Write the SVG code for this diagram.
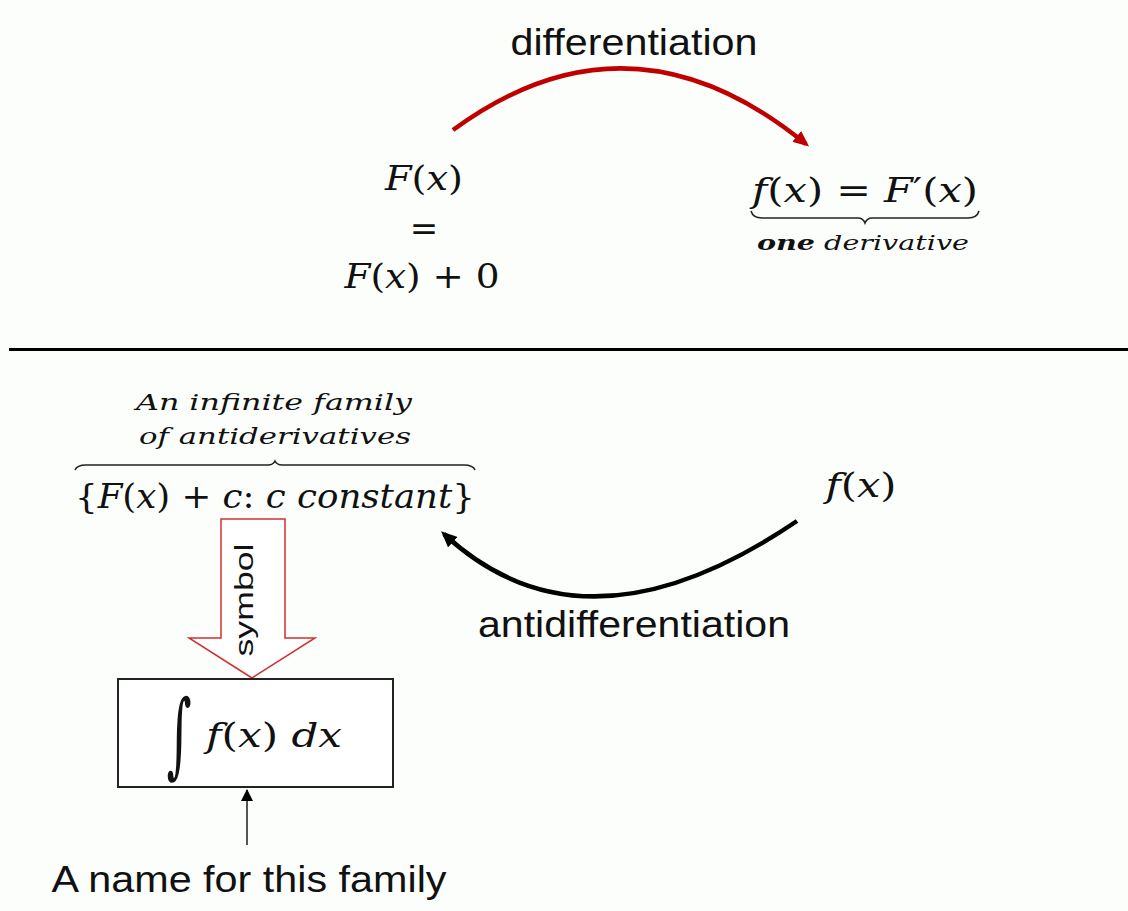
<svg xmlns="http://www.w3.org/2000/svg" width="1128" height="911" viewBox="0 0 1128 911">
<style>
.m{font-family:"DejaVu Serif","Liberation Serif",serif;fill:#111;}
.i{font-style:italic;}
.s{font-family:"Liberation Sans",Arial,sans-serif;fill:#111;}
.brace{fill:none;stroke:#222;stroke-width:1.6;}
</style>
<defs>
<marker id="redHead" markerWidth="16" markerHeight="14" refX="12" refY="7" orient="auto" markerUnits="userSpaceOnUse" viewBox="0 0 16 14">
<path d="M0,0 L16,7 L0,14 Z" fill="#c00000"/>
</marker>
<marker id="blackHead" markerWidth="16" markerHeight="14" refX="12" refY="7" orient="auto" markerUnits="userSpaceOnUse" viewBox="0 0 16 14">
<path d="M0,0 L16,7 L0,14 Z" fill="#000"/>
</marker>
<marker id="smallHead" markerWidth="12" markerHeight="12" refX="11" refY="6" orient="auto" markerUnits="userSpaceOnUse" viewBox="0 0 12 12">
<path d="M0,0 L12,6 L0,12 Z" fill="#000"/>
</marker>
</defs>
<rect width="1128" height="911" fill="#fcfefc"/>

<g id="differentiation-label">
<text class="s" x="634" y="55" font-size="37" text-anchor="middle" textLength="247" lengthAdjust="spacingAndGlyphs">differentiation</text>
</g>

<g id="F-node">
<text class="m" x="424" y="190" font-size="34" text-anchor="middle" textLength="78" lengthAdjust="spacingAndGlyphs"><tspan class="i">F</tspan>(<tspan class="i">x</tspan>)</text>
<text class="m" x="424" y="240" font-size="34" text-anchor="middle">=</text>
<text class="m" x="422" y="288" font-size="34" text-anchor="middle" textLength="155" lengthAdjust="spacingAndGlyphs"><tspan class="i">F</tspan>(<tspan class="i">x</tspan>) + 0</text>
</g>

<g id="derivative-node">
<text class="m" x="865" y="202" font-size="34" text-anchor="middle" textLength="226" lengthAdjust="spacingAndGlyphs"><tspan class="i">f</tspan>(<tspan class="i">x</tspan>) = <tspan class="i">F</tspan>′(<tspan class="i">x</tspan>)</text>
<path class="brace" d="M751,211 Q753,218 762,218 L858,218 Q863,218 865,223 Q867,218 872,218 L968,218 Q977,218 979,211"/>
<text class="m i" x="863" y="250" font-size="21" text-anchor="middle" textLength="212" lengthAdjust="spacingAndGlyphs"><tspan font-weight="bold">one</tspan> derivative</text>
</g>

<g id="divider">
<line x1="9" y1="349.5" x2="1128" y2="349.5" stroke="#000" stroke-width="3"/>
</g>

<g id="family-node">
<text class="m i" x="274" y="410" font-size="22" text-anchor="middle" textLength="276" lengthAdjust="spacingAndGlyphs">An infinite family</text>
<text class="m i" x="275" y="444" font-size="22" text-anchor="middle" textLength="272" lengthAdjust="spacingAndGlyphs">of antiderivatives</text>
<path class="brace" d="M75,470 Q77,465 86,465 L268,465 Q273,465 275,461 Q277,465 282,465 L464,465 Q473,465 475,470"/>
<text class="m" x="275" y="508" font-size="34" text-anchor="middle" textLength="400" lengthAdjust="spacingAndGlyphs">{<tspan class="i">F</tspan>(<tspan class="i">x</tspan>) + <tspan class="i">c</tspan>: <tspan class="i">c constant</tspan>}</text>
</g>

<g id="fx-node">
<text class="m" x="861" y="497" font-size="34" text-anchor="middle" textLength="71" lengthAdjust="spacingAndGlyphs"><tspan class="i">f</tspan>(<tspan class="i">x</tspan>)</text>
</g>

<g id="antidifferentiation-label">
<text class="s" x="634" y="637" font-size="37" text-anchor="middle" textLength="312" lengthAdjust="spacingAndGlyphs">antidifferentiation</text>
</g>

<g id="connectors">
<path d="M453,130 Q630,0 806,144" fill="none" stroke="#c00000" stroke-width="4.5" marker-end="url(#redHead)"/>
<path d="M797,521 Q585,665 444,534" fill="none" stroke="#000" stroke-width="4.5" marker-end="url(#blackHead)"/>
<line x1="247" y1="845" x2="247" y2="790" stroke="#555" stroke-width="2" marker-end="url(#smallHead)"/>
</g>

<g id="symbol-arrow">
<path d="M221,519 L285,519 L285,638 L315,638 L252,678 L189,638 L221,638 Z" fill="#fff" stroke="#d03030" stroke-width="1.5"/>
<text class="s" transform="translate(253,600) rotate(-90)" font-size="25" text-anchor="middle" textLength="113" lengthAdjust="spacingAndGlyphs">symbol</text>
</g>

<g id="integral-node">
<rect x="118" y="679" width="275" height="108" fill="#fff" stroke="#222" stroke-width="2"/>
<text class="m" transform="translate(179,766) scale(0.75,1.45)" font-size="64" text-anchor="middle">∫</text>
<text class="m" x="274" y="747" font-size="34" text-anchor="middle" textLength="136" lengthAdjust="spacingAndGlyphs"><tspan class="i">f</tspan>(<tspan class="i">x</tspan>) <tspan class="i">dx</tspan></text>
</g>

<g id="name-label">
<text class="s" x="249" y="892" font-size="37" text-anchor="middle" textLength="395" lengthAdjust="spacingAndGlyphs">A name for this family</text>
</g>
</svg>
